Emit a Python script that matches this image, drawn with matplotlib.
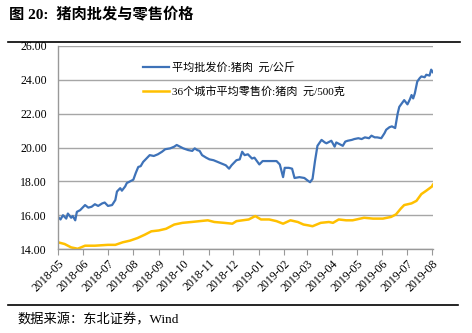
import numpy as np
import pandas as pd
import matplotlib
matplotlib.use("Agg")
import matplotlib.pyplot as plt
import matplotlib.dates as mdates
from matplotlib.lines import Line2D

plt.rcParams['font.family'] = ['Liberation Serif', 'Noto Sans CJK SC', 'DejaVu Sans']

# 平均批发价:猪肉 元/公斤
pf_dates = ['2018-05-01', '2018-05-04', '2018-05-07', '2018-05-11', '2018-05-13', '2018-05-17',
            '2018-05-19', '2018-05-22', '2018-05-24', '2018-05-28', '2018-06-03', '2018-06-07',
            '2018-06-11', '2018-06-15', '2018-06-19', '2018-06-24', '2018-06-27', '2018-07-01',
            '2018-07-06', '2018-07-10', '2018-07-12', '2018-07-16', '2018-07-18', '2018-07-22',
            '2018-07-24', '2018-07-28', '2018-08-01', '2018-08-04', '2018-08-07', '2018-08-10',
            '2018-08-13', '2018-08-16', '2018-08-21', '2018-08-26', '2018-08-31', '2018-09-05',
            '2018-09-09', '2018-09-15', '2018-09-20', '2018-09-23', '2018-09-27', '2018-10-01',
            '2018-10-07', '2018-10-12', '2018-10-15', '2018-10-18', '2018-10-21', '2018-10-24',
            '2018-10-29', '2018-11-02', '2018-11-07', '2018-11-12', '2018-11-17', '2018-11-22',
            '2018-11-26', '2018-11-29', '2018-12-05', '2018-12-09', '2018-12-12', '2018-12-15',
            '2018-12-19', '2018-12-24', '2018-12-27', '2018-12-30', '2019-01-02', '2019-01-06',
            '2019-01-11', '2019-01-17', '2019-01-23', '2019-01-27', '2019-01-31', '2019-02-02',
            '2019-02-07', '2019-02-11', '2019-02-14', '2019-02-20', '2019-02-26', '2019-03-02',
            '2019-03-05', '2019-03-08', '2019-03-11', '2019-03-14', '2019-03-19', '2019-03-23',
            '2019-03-25', '2019-03-29', '2019-03-31', '2019-04-04', '2019-04-06', '2019-04-10',
            '2019-04-14', '2019-04-17', '2019-04-20', '2019-04-25', '2019-04-28', '2019-05-03',
            '2019-05-07', '2019-05-11', '2019-05-16', '2019-05-19', '2019-05-23', '2019-05-26',
            '2019-05-31', '2019-06-04', '2019-06-06', '2019-06-10', '2019-06-13', '2019-06-17',
            '2019-06-20', '2019-06-22', '2019-06-25', '2019-06-28', '2019-07-02', '2019-07-05',
            '2019-07-07', '2019-07-09', '2019-07-11', '2019-07-14', '2019-07-17', '2019-07-19',
            '2019-07-23', '2019-07-25', '2019-07-29', '2019-07-31', '2019-08-02']
pf_values = [15.9, 15.75, 16.0, 15.8, 16.1, 15.85,
             15.95, 15.7, 16.2, 16.3, 16.6, 16.45,
             16.5, 16.65, 16.55, 16.7, 16.75, 16.55,
             16.6, 16.9, 17.4, 17.6, 17.45, 17.7,
             17.9, 18.0, 18.1, 18.5, 18.85, 18.9,
             19.15, 19.3, 19.55, 19.5, 19.6, 19.75,
             19.9, 19.95, 20.05, 20.15, 20.05, 19.95,
             19.85, 19.8, 19.95, 19.85, 19.8, 19.55,
             19.4, 19.3, 19.25, 19.15, 19.05, 18.95,
             18.75, 18.95, 19.25, 19.3, 19.75, 19.55,
             19.6, 19.35, 19.4, 19.2, 19.0, 19.2,
             19.2, 19.2, 19.2, 19.0, 18.25, 18.8,
             18.8, 18.75, 18.2, 18.25, 18.2, 18.05,
             17.95, 18.15, 19.2, 20.1, 20.45, 20.3,
             20.25, 20.35, 20.4, 20.05, 20.3, 20.2,
             20.1, 20.35, 20.4, 20.45, 20.5, 20.55,
             20.5, 20.6, 20.55, 20.7, 20.6, 20.6,
             20.55, 20.85, 21.05, 21.2, 21.25, 21.15,
             22.0, 22.4, 22.6, 22.8, 22.55, 22.85,
             23.1, 22.9, 23.2, 23.9, 24.1, 24.2,
             24.15, 24.3, 24.25, 24.6, 24.45]

# 36个城市平均零售价:猪肉 元/500克
rt_dates = ['2018-05-01', '2018-05-09', '2018-05-17', '2018-05-25', '2018-06-03', '2018-06-15',
            '2018-07-01', '2018-07-10', '2018-07-19', '2018-07-28', '2018-08-06', '2018-08-15',
            '2018-08-23', '2018-09-01', '2018-09-10', '2018-09-20', '2018-09-30', '2018-10-11',
            '2018-10-21', '2018-10-31', '2018-11-08', '2018-11-20', '2018-11-30', '2018-12-05',
            '2018-12-20', '2018-12-28', '2019-01-04', '2019-01-14', '2019-01-23', '2019-01-31',
            '2019-02-09', '2019-02-18', '2019-02-25', '2019-03-03', '2019-03-08', '2019-03-18',
            '2019-03-28', '2019-04-02', '2019-04-09', '2019-04-18', '2019-04-26', '2019-05-10',
            '2019-05-21', '2019-06-02', '2019-06-12', '2019-06-18', '2019-06-24', '2019-06-28',
            '2019-07-07', '2019-07-13', '2019-07-19', '2019-07-25', '2019-08-01', '2019-08-02']
rt_values = [14.4, 14.3, 14.1, 14.02, 14.2, 14.2,
             14.25, 14.25, 14.4, 14.5, 14.65, 14.85,
             15.05, 15.1, 15.2, 15.45, 15.55, 15.6,
             15.65, 15.7, 15.6, 15.55, 15.5, 15.65,
             15.75, 15.95, 15.75, 15.75, 15.65, 15.5,
             15.7, 15.6, 15.45, 15.4, 15.35, 15.55,
             15.6, 15.55, 15.75, 15.7, 15.7, 15.85,
             15.8, 15.8, 15.9, 16.05, 16.4, 16.6,
             16.7, 16.85, 17.25, 17.45, 17.7, 17.8]

labels = ['平均批发价:猪肉  元/公斤', '36个城市平均零售价:猪肉  元/500克']
yticks = [14, 16, 18, 20, 22, 24, 26]

blue = '#3E72B8'
orange = '#FFC000'

fig = plt.figure(figsize=(4.72, 3.33), dpi=100)
ax = fig.add_axes([0.123, 0.252, 0.794, 0.61])

ax.plot(pd.to_datetime(pf_dates), pf_values, color=blue, lw=1.6, label=labels[0])
ax.plot(pd.to_datetime(rt_dates), rt_values, color=orange, lw=1.8, label=labels[1])

ax.set_ylim(14, 26)
ax.set_yticks(yticks)
ax.set_yticklabels(['%.2f' % v for v in yticks])
ax.set_xlim(pd.Timestamp('2018-05-01'), pd.Timestamp('2019-08-02'))
ax.xaxis.set_major_locator(mdates.MonthLocator())
ax.xaxis.set_major_formatter(mdates.DateFormatter('%Y-%m'))
for lab in ax.get_xticklabels():
    lab.set_rotation(45)
    lab.set_ha('right')
    lab.set_rotation_mode('anchor')
ax.tick_params(axis='x', length=4, color='#999999', labelsize=8.5, pad=2)
ax.tick_params(axis='y', length=0, labelsize=8.5, pad=8)

ax.grid(axis='y', color='#a6a6a6', lw=1)
for s in ['top', 'right']:
    ax.spines[s].set_visible(False)
for s in ['left', 'bottom']:
    ax.spines[s].set_color('#999999')
    ax.spines[s].set_linewidth(1)

ax.legend(loc='upper left', bbox_to_anchor=(0.2, 0.97), frameon=False, fontsize=8,
          handlelength=2.3, labelspacing=1.2, handletextpad=0.3)

fig.text(0.02, 0.955, '图 20:  猪肉批发与零售价格', fontsize=11, fontweight='bold', va='center')
fig.add_artist(Line2D([0.017, 0.975], [0.874, 0.874], color='black', lw=1.2))
fig.add_artist(Line2D([0.017, 0.97], [0.084, 0.084], color='black', lw=1.2))
fig.text(0.038, 0.038, '数据来源：东北证券，Wind', fontsize=9.5, va='center')

fig.savefig('out.png', dpi=100)
